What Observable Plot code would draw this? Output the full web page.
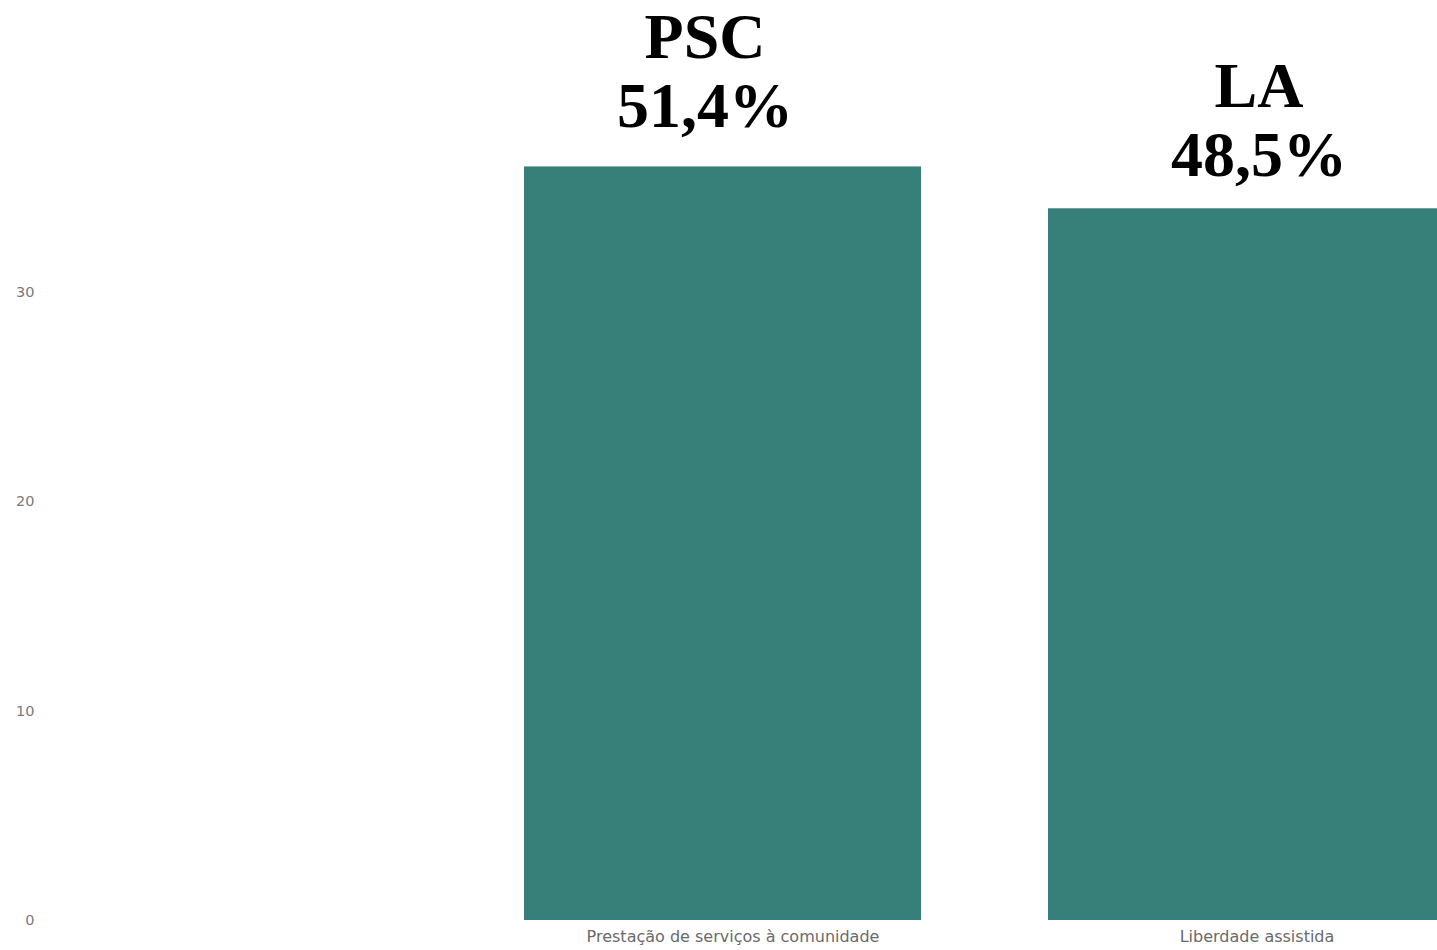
<!DOCTYPE html>
<html>
<head>
<meta charset="utf-8">
<script src="https://cdn.jsdelivr.net/npm/d3@7"></script>
<script src="https://cdn.jsdelivr.net/npm/@observablehq/plot@0.6"></script>
<style>
  html, body { margin: 0; padding: 0; background: #fff; overflow: hidden; }
  #chart svg { display: block; }
</style>
</head>
<body>
<div id="chart"></div>
<script>
const categories = ["Prestação de serviços à comunidade", "Liberdade assistida"];
const values = [36, 34];
const shortNames = ["PSC", "LA"];
const percents = ["51,4%", "48,5%"];
const yTicks = [0, 10, 20, 30];

const data = categories.map((c, i) => ({
  category: c,
  value: values[i],
  label: shortNames[i] + "\n" + percents[i]
}));

const labelFont = {
  fontFamily: "Liberation Serif, Times New Roman, serif",
  fontWeight: "bold",
  fontSize: 64,
  lineHeight: 1.08,
  lineAnchor: "bottom",
  fill: "#000"
};

const chart = Plot.plot({
  width: 1437,
  height: 950,
  marginLeft: 40,
  marginRight: 0,
  marginTop: 0,
  marginBottom: 30,
  style: { background: "#fff", overflow: "hidden" },
  x: { domain: categories, range: [396, 1573], padding: 0.242, axis: null },
  y: { domain: [0, 43.95], axis: null },
  marks: [
    Plot.barY(data, { x: "category", y: "value", fill: "#377f79", clip: true }),
    Plot.axisY({
      ticks: yTicks, tickSize: 0, tickPadding: 6, fontSize: 14.5,
      fontFamily: "DejaVu Sans, sans-serif", color: "#7a7a7a", label: null
    }),
    Plot.axisX({
      tickSize: 0, tickPadding: 10, fontSize: 16, dx: 10,
      fontFamily: "DejaVu Sans, sans-serif", color: "#6a6a6a", label: null
    }),
    Plot.text(data.filter((d, i) => i === 0), { x: "category", y: "value", text: "label", dx: -18, dy: -40, ...labelFont }),
    Plot.text(data.filter((d, i) => i === 1), { x: "category", y: "value", text: "label", dx: 12, dy: -33, ...labelFont })
  ]
});
document.getElementById("chart").appendChild(chart);
</script>
</body>
</html>
